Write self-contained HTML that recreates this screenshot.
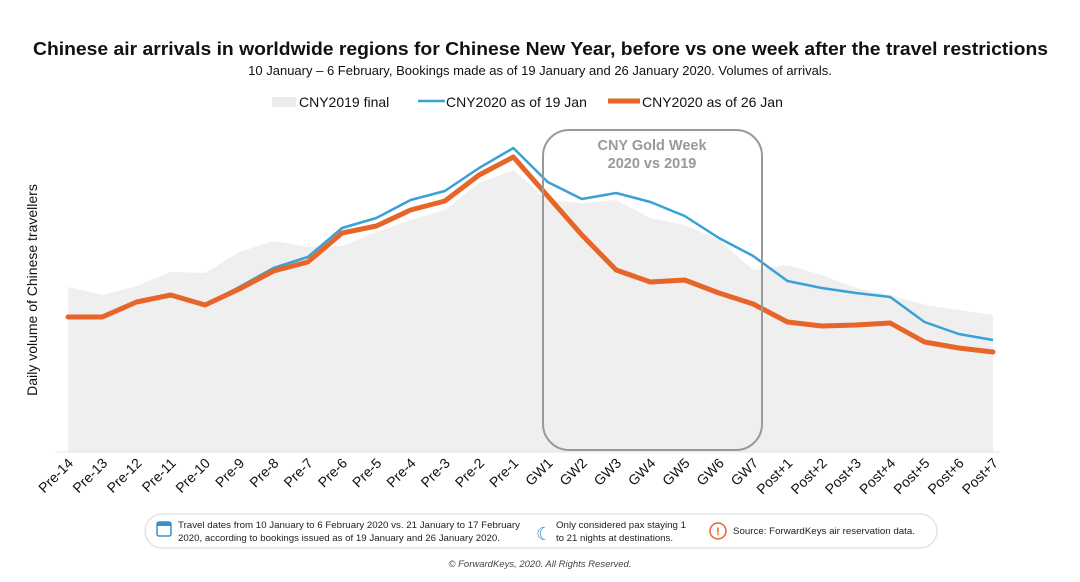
<!DOCTYPE html>
<html><head><meta charset="utf-8"><style>
body{margin:0;background:#fff;font-family:"Liberation Sans",sans-serif;}
svg text{font-family:"Liberation Sans",sans-serif;}
</style></head><body>
<svg width="1080" height="577" viewBox="0 0 1080 577">
<text x="33" y="55" textLength="1015" lengthAdjust="spacingAndGlyphs" font-size="18.5" font-weight="bold" fill="#111">Chinese air arrivals in worldwide regions for Chinese New Year, before vs one week after the travel restrictions</text>
<text x="540" y="75" text-anchor="middle" font-size="13" fill="#111">10 January – 6 February, Bookings made as of 19 January and 26 January 2020. Volumes of arrivals.</text>
<g>
<rect x="272" y="97" width="24" height="10" fill="#ececec"/>
<text x="299" y="107" font-size="14" fill="#111">CNY2019 final</text>
<line x1="418" y1="101" x2="445" y2="101" stroke="#3aa0d8" stroke-width="2.5"/>
<text x="446" y="107" font-size="14" fill="#111">CNY2020 as of 19 Jan</text>
<line x1="608" y1="101" x2="640" y2="101" stroke="#e8652a" stroke-width="5"/>
<text x="642" y="107" font-size="14" fill="#111">CNY2020 as of 26 Jan</text>
</g>
<text transform="translate(37,290) rotate(-90)" text-anchor="middle" font-size="14" fill="#111">Daily volume of Chinese travellers</text>
<g id="plot"></g>
<rect x="543" y="130" width="219" height="320" rx="26" fill="none" stroke="#999" stroke-width="2"/>
<text x="652" y="150" text-anchor="middle" font-size="14.5" font-weight="bold" fill="#999">CNY Gold Week</text>
<text x="652" y="168" text-anchor="middle" font-size="14.5" font-weight="bold" fill="#999">2020 vs 2019</text>
<rect x="145" y="514" width="792" height="34" rx="17" fill="#fff" stroke="#e4e4e4" stroke-width="1.5"/>
<g><rect x="157" y="522" width="14" height="14" rx="2" fill="#fff" stroke="#3a8fd0" stroke-width="1.5"/><rect x="157" y="522" width="14" height="4" fill="#3a8fd0"/></g>
<text x="178" y="528" textLength="342" lengthAdjust="spacingAndGlyphs" font-size="9.5" fill="#222">Travel dates from 10 January to 6 February 2020 vs. 21 January to 17 February</text>
<text x="178" y="541" textLength="322" lengthAdjust="spacingAndGlyphs" font-size="9.5" fill="#222">2020, according to bookings issued as of 19 January and 26 January 2020.</text>
<text x="536" y="540" font-size="18" fill="#3a8fd0">☾</text>
<text x="556" y="528" textLength="130" lengthAdjust="spacingAndGlyphs" font-size="9.5" fill="#222">Only considered pax staying 1</text>
<text x="556" y="541" textLength="117" lengthAdjust="spacingAndGlyphs" font-size="9.5" fill="#222">to 21 nights at destinations.</text>
<circle cx="718" cy="531" r="8" fill="none" stroke="#e8652a" stroke-width="1.5"/>
<text x="718" y="535" text-anchor="middle" font-size="11" font-weight="bold" fill="#e8652a">!</text>
<text x="733" y="534" textLength="182" lengthAdjust="spacingAndGlyphs" font-size="9.5" fill="#222">Source: ForwardKeys air reservation data.</text>
<text x="540" y="567" text-anchor="middle" font-size="9.5" font-style="italic" fill="#444">© ForwardKeys, 2020. All Rights Reserved.</text>
</svg>
<script>
const categories=["Pre-14","Pre-13","Pre-12","Pre-11","Pre-10","Pre-9","Pre-8","Pre-7","Pre-6","Pre-5","Pre-4","Pre-3","Pre-2","Pre-1","GW1","GW2","GW3","GW4","GW5","GW6","GW7","Post+1","Post+2","Post+3","Post+4","Post+5","Post+6","Post+7"];
const cny2019=[165,157,166,180,179,200,211,205,206,220,232,242,269,282,252,249,252,234,227,212,182,187,177,164,157,147,142,137];
const cny2020Jan19=[135,135,150,157,147,165,184,195,224,234,252,261,284,304,270,253,259,250,236,214,196,171,164,159,155,130,118,112];
const cny2020Jan26=[135,135,150,157,147,163,181,190,219,226,242,251,277,295,256,217,182,170,172,159,148,130,126,127,129,110,104,100];
const ns="http://www.w3.org/2000/svg";
const plot=document.getElementById('plot');
const x0=68,x1=993,base=452;
function xs(i){return x0+(x1-x0)*i/(categories.length-1);}
function ys(v){return base-v;}
function pts(arr){return arr.map((v,i)=>xs(i)+','+ys(v)).join(' ');}
const area=document.createElementNS(ns,'polygon');
area.setAttribute('points',xs(0)+','+base+' '+pts(cny2019)+' '+xs(categories.length-1)+','+base);
area.setAttribute('fill','#efefef');


plot.appendChild(area);
const ax=document.createElementNS(ns,'line');
ax.setAttribute('x1',55);ax.setAttribute('x2',1000);ax.setAttribute('y1',base);ax.setAttribute('y2',base);
ax.setAttribute('stroke','#e6e6e6');ax.setAttribute('stroke-width','1');


plot.appendChild(ax);
const l1=document.createElementNS(ns,'polyline');
l1.setAttribute('points',pts(cny2020Jan19));l1.setAttribute('fill','none');l1.setAttribute('stroke','#3aa0d8');l1.setAttribute('stroke-width','2.5');l1.setAttribute('stroke-linejoin','round');


plot.appendChild(l1);
const l2=document.createElementNS(ns,'polyline');
l2.setAttribute('points',pts(cny2020Jan26));l2.setAttribute('fill','none');l2.setAttribute('stroke','#e8652a');l2.setAttribute('stroke-width','5');l2.setAttribute('stroke-linejoin','round');l2.setAttribute('stroke-linecap','round');


plot.appendChild(l2);
categories.forEach((c,i)=>{
 const t=document.createElementNS(ns,'text');
 t.setAttribute('transform','translate('+(xs(i)+6)+',464) rotate(-45)');
 t.setAttribute('text-anchor','end');t.setAttribute('font-size','14');t.setAttribute('fill','#111');
 t.textContent=c;
 
 
 plot.appendChild(t);
});
</script>
</body></html>
